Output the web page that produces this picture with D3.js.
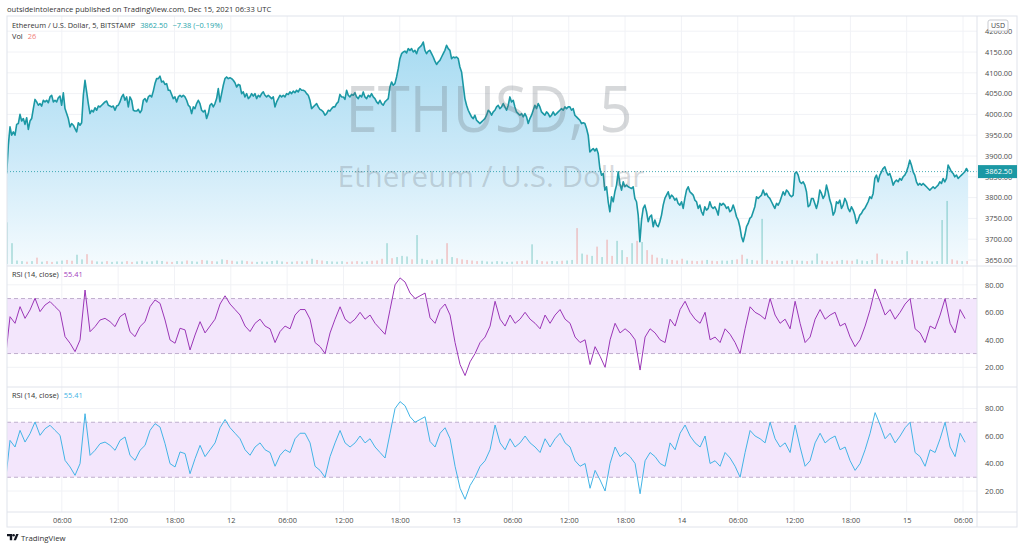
<!DOCTYPE html>
<html>
<head>
<meta charset="utf-8">
<script src="https://cdn.jsdelivr.net/npm/d3@7"></script>
<style>
  body { margin: 0; background: #fff; }
  svg { display: block; font-family: "Open Sans", "Noto Sans", sans-serif; }
</style>
</head>
<body>
<svg width="1024" height="551"></svg>
<script>
// ---- data ----
// ETHUSD closes, one reading every ~10.65 min starting Dec 11 00:07:30 UTC
var priceStart = Date.UTC(2021, 11, 11, 0, 7, 30);
var sampleStepMin = 10.65;

var closesDec11 = [3858,3926,3970,3950,3958,3950,3976,3978,4000,3984,
  3990,3976,3992,3964,3984,3990,4014,4036,4030,4022,
  4026,4020,4034,4030,4034,4028,4042,4046,4030,4034,
  4030,4040,4044,4022,4052,4014,4002,3990,3970,3978,
  3974,3966,3958,3980,3974,3980,4046,4082,4054,4026,
  4002,4010,4006,4016,4010,4020,4018,4022,4026,4030,
  4032,4022,4020,4018,4020,4010,4020,4022,4030,4042,
  4048,4034,4042,4018,4042,4034,4010,4008,4008,4012,
  4004,4010,4034,4038,4030,4042,4046,4042,4056,4074,
  4086,4086,4092,4078,4080,4072,4074,4058,4058,4048,
  4038,4042,4030,4042,4046,4042,4046,4042,4034,4022,
  4018,4002,4018,4014,4026,4034,4026,4010,4006,4010,
  3990,4002,4022,4026,4018,4026,4038,4062,4030,4050,
  4070,4086,4090,4086,4088,4086,4082,4076,4066,4072];

var closesDec12 = [4070,4050,4054,4042,4050,4038,4042,4050,4044,4050,
  4038,4046,4042,4050,4054,4046,4042,4046,4042,4038,
  4042,4018,4030,4038,4046,4042,4046,4042,4050,4048,
  4054,4050,4056,4052,4058,4054,4062,4058,4058,4056,
  4050,4046,4034,4014,4018,4022,4026,4018,4012,4010,
  4006,3998,4002,4010,4008,4014,4018,4018,4026,4030,
  4048,4042,4042,4036,4058,4046,4042,4048,4046,4052,
  4042,4038,4046,4042,4054,4042,4038,4046,4042,4050,
  4042,4038,4030,4026,4034,4026,4022,4030,4034,4038,
  4066,4078,4070,4074,4090,4110,4134,4146,4150,4152,
  4148,4158,4154,4158,4150,4154,4146,4158,4162,4166,
  4174,4154,4146,4152,4154,4146,4138,4128,4120,4126,
  4130,4138,4146,4154,4166,4158,4154,4134,4138,4136,
  4138,4134,4114,4102,4070,4038,4022,4010,4002,3994,
  3990,3998,3986,3982];

var closesDec13 = [3978,3982,3986,3990,3998,4010,4006,3998,4006,4010,
  4018,4022,4014,4018,4026,4018,4010,4022,4042,4030,
  4034,4018,4006,4002,3998,4002,3994,4002,3994,3978,
  3990,3998,4010,4022,4014,4026,4018,4006,4002,3998,
  4006,4002,3994,3998,4006,3998,4002,4006,4010,4014,
  4010,4018,4014,4018,4018,4010,4014,3998,3994,3990,
  3986,3978,3980,3978,3966,3950,3910,3914,3918,3912,
  3918,3906,3870,3854,3858,3818,3826,3790,3766,3802,
  3790,3814,3830,3862,3834,3818,3838,3826,3830,3826,
  3824,3822,3826,3798,3790,3758,3694,3746,3774,3782,
  3766,3742,3754,3758,3730,3746,3734,3730,3742,3758,
  3782,3798,3806,3814,3798,3806,3802,3794,3798,3786,
  3782,3790,3774,3798,3818,3826,3814,3810,3806,3794,
  3790,3774,3782,3766,3758,3778,3770,3774,3790,3778,
  3774,3778,3770,3758];

var closesDec14 = [3786,3782,3786,3782,3774,3778,3766,3770,3782,3770,
  3754,3746,3730,3706,3694,3710,3730,3738,3750,3754,
  3766,3778,3802,3798,3802,3806,3818,3806,3810,3802,
  3798,3790,3782,3774,3786,3782,3790,3802,3814,3806,
  3818,3814,3806,3802,3806,3858,3862,3854,3838,3834,
  3838,3830,3814,3778,3782,3798,3798,3786,3774,3790,
  3818,3810,3798,3806,3830,3814,3794,3782,3758,3766,
  3790,3786,3794,3774,3782,3798,3790,3774,3766,3778,
  3770,3758,3738,3746,3758,3762,3770,3774,3782,3790,
  3802,3798,3810,3846,3854,3838,3854,3862,3870,3874,
  3862,3854,3858,3846,3830,3838,3842,3838,3846,3842,
  3850,3854,3862,3874,3890,3878,3862,3854,3838,3830,
  3834,3830,3834,3830,3826,3822,3818,3822,3826,3822,
  3826,3830,3838,3834,3846,3838,3846,3878,3870,3862,
  3858,3850,3854,3846,3850,3854,3858,3862,3870,3862.5];

// RSI(14, close), one reading every ~32 min starting Dec 10 23:57 UTC
var rsiStart = Date.UTC(2021, 11, 10, 23, 57);
var rsiStepMin = 31.96;
var rsiValues = [24,56.8,52,64.1,55.6,61.7,70.2,60.5,65.3,67.8,
  64.1,60.5,42.3,37.5,31.4,39.9,76.2,45.9,49.6,54.4,
  55.6,53.2,49.6,56.8,59.3,45.9,42.3,49.6,53.2,64.1,
  69,66.5,54.4,39.9,37.5,48.4,47.2,32.6,43.5,53.2,
  45,50,55,66,72,66,62,58,50,46,
  52,55,50,48,38,46,50,48,58,62,
  62,55,38,35,30,45,55,64,55,52,
  55,60,55,58,52,48,44,62,80,85,
  82,74,70,72,74,56,52,62,66,58,
  38,22,14,24,30,38,42,50,68,55,
  50,58,52,55,60,55,52,48,58,52,
  58,62,55,52,42,38,40,22,35,28,
  20,40,52,45,48,45,40,18,42,48,
  45,40,38,55,50,62,68,60,55,52,
  60,40,42,38,48,44,38,30,48,64,
  60,58,55,70,58,52,55,48,68,52,
  38,42,55,62,55,58,60,50,52,42,
  35,40,50,62,77,68,58,62,55,60,
  66,70,48,45,38,50,48,58,70,52,
  45,62,55.41];

// Volume (ETH), one reading every ~32 min starting Dec 11 00:09:35 UTC
var volStart = Date.UTC(2021, 11, 11, 0, 9, 35);
var volStepMin = 31.96;
var volumes = [360,180,30,25,20,25,55,20,25,18,
  22,30,35,28,80,40,85,30,22,20,
  25,18,22,20,25,18,22,28,20,24,
  30,26,20,18,25,22,30,24,20,35,
  30,25,22,40,35,28,22,30,25,20,
  18,22,20,26,30,22,18,20,24,22,
  28,45,35,30,25,22,20,24,18,22,
  25,20,24,28,30,45,180,50,60,70,
  65,40,250,45,35,30,40,45,180,60,
  50,40,35,30,25,28,22,20,25,22,
  18,20,24,26,30,170,35,25,22,26,
  24,28,30,35,310,90,80,70,150,60,
  210,70,200,120,60,180,200,190,120,80,
  55,50,40,35,30,45,30,28,25,30,
  35,28,25,30,28,35,40,80,45,35,
  30,390,35,28,30,25,28,35,30,28,
  25,30,90,30,25,22,28,35,30,28,
  40,30,25,35,90,40,30,28,25,35,
  110,35,30,25,28,22,25,380,545,40,
  30,25,26];

var priceTicks = [3650,3700,3750,3800,3850,3900,3950,4000,4050,4100,4150,4200];
var rsiTicks = [20,40,60,80];
var rsiBand = [30,70];
var lastPrice = 3862.5;
var lastChange = -7.38;
var lastChangePct = -0.19;
var lastVolume = 26;
var lastRsi = 55.41;

// ---- build series ----
var closes = closesDec11.concat(closesDec12, closesDec13, closesDec14);
var priceData = closes.map(function(v, i) {
  return { t: new Date(priceStart + i * sampleStepMin * 60000), v: v };
});
var rsiData = rsiValues.map(function(v, i) {
  return { t: new Date(rsiStart + i * rsiStepMin * 60000), v: v };
});
var bisectT = d3.bisector(function(d) { return d.t; }).left;
var volData = volumes.map(function(v, i) {
  var t = new Date(volStart + i * volStepMin * 60000);
  var j = Math.max(1, Math.min(priceData.length - 1, bisectT(priceData, t)));
  return { t: t, v: v, up: priceData[j].v >= priceData[j - 1].v };
});

// ---- layout ----
var svg = d3.select('svg');
var plotLeft = 7, plotRight = 977, chartRight = 1017;
var chartTop = 16, chartBottom = 527;
var priceBottom = 266, rsi1Bottom = 387, rsi2Bottom = 512;

var x = d3.scaleUtc()
  .domain([new Date(Date.UTC(2021, 11, 11)), new Date(Date.UTC(2021, 11, 15))])
  .range([5.5, 906.7]);
var yPrice = d3.scaleLinear().domain([3650, 4200]).range([260, 31.2]);
var yVol = d3.scaleLinear().domain([0, 700]).range([264, 183]);
var yRsi1 = d3.scaleLinear().domain([20, 80]).range([367.3, 284.8]);
var yRsi2 = d3.scaleLinear().domain([20, 80]).range([491, 408.5]);

var timeTicks = d3.utcHour.every(6).range(x.invert(plotLeft), x.invert(plotRight));

var gridColor = '#f1f2f6';
var borderColor = '#e0e3eb';
var textColor = '#4a4a4a';
var lineColor = '#1b98a4';

var defs = svg.append('defs');
defs.append('clipPath').attr('id', 'clip-price')
  .append('rect').attr('x', plotLeft).attr('y', chartTop)
  .attr('width', plotRight - plotLeft).attr('height', priceBottom - chartTop);
defs.append('clipPath').attr('id', 'clip-rsi1')
  .append('rect').attr('x', plotLeft).attr('y', priceBottom)
  .attr('width', plotRight - plotLeft).attr('height', rsi1Bottom - priceBottom);
defs.append('clipPath').attr('id', 'clip-rsi2')
  .append('rect').attr('x', plotLeft).attr('y', rsi1Bottom)
  .attr('width', plotRight - plotLeft).attr('height', rsi2Bottom - rsi1Bottom);

var grad = defs.append('linearGradient').attr('id', 'area-fill')
  .attr('gradientUnits', 'userSpaceOnUse')
  .attr('x1', 0).attr('x2', 0).attr('y1', 40).attr('y2', priceBottom);
grad.append('stop').attr('offset', 0).attr('stop-color', '#a7dbf1');
grad.append('stop').attr('offset', 0.5).attr('stop-color', '#cbe9f8');
grad.append('stop').attr('offset', 1).attr('stop-color', '#f5fbfe');

// header
svg.append('text')
  .attr('x', 7).attr('y', 12)
  .style('font-size', '7.6px').style('fill', '#333')
  .text('outsideintolerance published on TradingView.com, Dec 15, 2021 06:33 UTC');

// grid
var grid = svg.append('g');
grid.selectAll('line.v').data(timeTicks).enter().append('line')
  .attr('x1', function(d) { return x(d); }).attr('x2', function(d) { return x(d); })
  .attr('y1', chartTop).attr('y2', rsi2Bottom)
  .style('stroke', gridColor);
grid.selectAll('line.hp').data(priceTicks).enter().append('line')
  .attr('x1', plotLeft).attr('x2', plotRight)
  .attr('y1', function(d) { return yPrice(d); }).attr('y2', function(d) { return yPrice(d); })
  .style('stroke', gridColor);
[yRsi1, yRsi2].forEach(function(ys) {
  grid.append('g').selectAll('line').data(rsiTicks).enter().append('line')
    .attr('x1', plotLeft).attr('x2', plotRight)
    .attr('y1', function(d) { return ys(d); }).attr('y2', function(d) { return ys(d); })
    .style('stroke', gridColor);
});

// price area + line
var area = d3.area()
  .x(function(d) { return x(d.t); })
  .y0(priceBottom)
  .y1(function(d) { return yPrice(d.v); });
var line = d3.line()
  .x(function(d) { return x(d.t); })
  .y(function(d) { return yPrice(d.v); });

var pricePane = svg.append('g').attr('clip-path', 'url(#clip-price)');
pricePane.append('path').datum(priceData)
  .attr('d', area).style('fill', 'url(#area-fill)');

// volume bars
pricePane.append('g').selectAll('rect').data(volData).enter().append('rect')
  .attr('x', function(d) { return x(d.t) - 0.5; })
  .attr('width', 1)
  .attr('y', function(d) { return yVol(d.v); })
  .attr('height', function(d) { return yVol(0) - yVol(d.v); })
  .style('fill', function(d) { return d.up ? 'rgba(38,166,154,0.55)' : 'rgba(239,83,80,0.5)'; });

// watermark
var wm = svg.append('g').style('fill', 'rgba(105,110,118,0.27)');
wm.append('text').attr('x', 489).attr('y', 132)
  .attr('text-anchor', 'middle')
  .attr('textLength', 287).attr('lengthAdjust', 'spacingAndGlyphs')
  .style('font-size', '64px').text('ETHUSD, 5');
wm.append('text').attr('x', 491).attr('y', 187)
  .attr('text-anchor', 'middle')
  .attr('textLength', 307).attr('lengthAdjust', 'spacingAndGlyphs')
  .style('font-size', '30px').text('Ethereum / U.S. Dollar');

pricePane.append('line')
  .attr('x1', plotLeft).attr('x2', plotRight)
  .attr('y1', yPrice(lastPrice)).attr('y2', yPrice(lastPrice))
  .style('stroke', lineColor).style('stroke-opacity', 0.8)
  .style('stroke-dasharray', '1,2');
pricePane.append('path').datum(priceData)
  .attr('d', line)
  .style('fill', 'none').style('stroke', lineColor)
  .style('stroke-width', 1.6).style('stroke-linejoin', 'round');

// RSI panes
function drawRsi(ys, clipId, color) {
  var g = svg.append('g').attr('clip-path', 'url(#' + clipId + ')');
  g.append('rect')
    .attr('x', plotLeft).attr('width', plotRight - plotLeft)
    .attr('y', ys(rsiBand[1])).attr('height', ys(rsiBand[0]) - ys(rsiBand[1]))
    .style('fill', '#f3e6fc');
  g.selectAll('line.band').data(rsiBand).enter().append('line')
    .attr('x1', plotLeft).attr('x2', plotRight)
    .attr('y1', function(d) { return ys(d); }).attr('y2', function(d) { return ys(d); })
    .style('stroke', '#bfaecd').style('stroke-dasharray', '4,3');
  g.append('path').datum(rsiData)
    .attr('d', d3.line().x(function(d) { return x(d.t); }).y(function(d) { return ys(d.v); }))
    .style('fill', 'none').style('stroke', color).style('stroke-width', 1);
}
drawRsi(yRsi1, 'clip-rsi1', '#9b36b7');
drawRsi(yRsi2, 'clip-rsi2', '#43b4e6');

// frame and separators
var frame = svg.append('g').style('stroke', borderColor).style('fill', 'none');
frame.append('rect').attr('x', plotLeft).attr('y', chartTop)
  .attr('width', chartRight - plotLeft).attr('height', chartBottom - chartTop);
frame.append('line').attr('x1', plotRight).attr('x2', plotRight)
  .attr('y1', chartTop).attr('y2', chartBottom);
[priceBottom, rsi1Bottom, rsi2Bottom].forEach(function(yy) {
  frame.append('line').attr('x1', plotLeft).attr('x2', chartRight)
    .attr('y1', yy).attr('y2', yy);
});

// axes
function styleAxis(g) {
  g.select('.domain').remove();
  g.selectAll('text').style('font-size', '7.4px').style('fill', textColor)
    .style('font-family', '"Open Sans", sans-serif');
}
svg.append('g').attr('transform', 'translate(' + plotRight + ',0)')
  .call(d3.axisRight(yPrice).tickValues(priceTicks).tickSize(0).tickPadding(8)
    .tickFormat(d3.format('.2f')))
  .call(styleAxis);
[yRsi1, yRsi2].forEach(function(ys) {
  svg.append('g').attr('transform', 'translate(' + plotRight + ',0)')
    .call(d3.axisRight(ys).tickValues(rsiTicks).tickSize(0).tickPadding(8)
      .tickFormat(d3.format('.2f')))
    .call(styleAxis);
});
svg.append('g').attr('transform', 'translate(0,' + rsi2Bottom + ')')
  .call(d3.axisBottom(x).tickValues(timeTicks).tickSize(0).tickPadding(6)
    .tickFormat(function(d) {
      return d.getUTCHours() === 0 ? d3.utcFormat('%-d')(d) : d3.utcFormat('%H:%M')(d);
    }))
  .call(styleAxis);

// USD badge (sits over the top price label, as in the original)
var usd = svg.append('g');
usd.append('rect').attr('x', 988).attr('y', 20).attr('width', 20).attr('height', 11)
  .attr('rx', 2).style('fill', '#fff').style('stroke', '#c9cbd1');
usd.append('text').attr('x', 998).attr('y', 28.3).attr('text-anchor', 'middle')
  .style('font-size', '7px').style('fill', '#444').text('USD');

// last price badge
var badge = svg.append('g');
badge.append('rect').attr('x', plotRight + 1).attr('y', yPrice(lastPrice) - 6.5)
  .attr('width', chartRight - plotRight - 1).attr('height', 13)
  .style('fill', lineColor);
badge.append('text').attr('x', 985).attr('y', yPrice(lastPrice) + 2.7)
  .style('font-size', '7.4px').style('fill', '#fff').text(d3.format('.2f')(lastPrice));

// legends
var fmt2 = d3.format('.2f');
var leg = svg.append('text').attr('x', 12).attr('y', 28).style('font-size', '7.4px');
leg.append('tspan').style('fill', '#333').text('Ethereum / U.S. Dollar, 5, BITSTAMP');
leg.append('tspan').attr('dx', 5).style('fill', '#26a5ab').text(fmt2(lastPrice));
leg.append('tspan').attr('dx', 5).style('fill', '#26a5ab')
  .text('\u2212' + fmt2(Math.abs(lastChange)) + ' (\u2212' + fmt2(Math.abs(lastChangePct)) + '%)');
var vol = svg.append('text').attr('x', 12).attr('y', 39).style('font-size', '7.4px');
vol.append('tspan').style('fill', '#333').text('Vol');
vol.append('tspan').attr('dx', 5).style('fill', '#f07c7a').text(lastVolume);

[[priceBottom, '#a33bbd'], [rsi1Bottom, '#3fb3e5']].forEach(function(p) {
  var t = svg.append('text').attr('x', 12).attr('y', p[0] + 11).style('font-size', '7.4px');
  t.append('tspan').style('fill', '#333').text('RSI (14, close)');
  t.append('tspan').attr('dx', 5).style('fill', p[1]).text(fmt2(lastRsi));
});

// TradingView logo
var logo = svg.append('g').style('fill', '#131722');
logo.append('path').attr('d', 'M7,534 h5.2 v6.2 h-2.4 v-4 h-2.8 z');
logo.append('circle').attr('cx', 13.6).attr('cy', 535.3).attr('r', 1.3);
logo.append('path').attr('d', 'M16.2,534 h2.4 l-2.6,6.2 h-2.4 z');
svg.append('text').attr('x', 21).attr('y', 540.5)
  .style('font-size', '7.8px').style('fill', '#333').text('TradingView');
</script>
</body>
</html>
